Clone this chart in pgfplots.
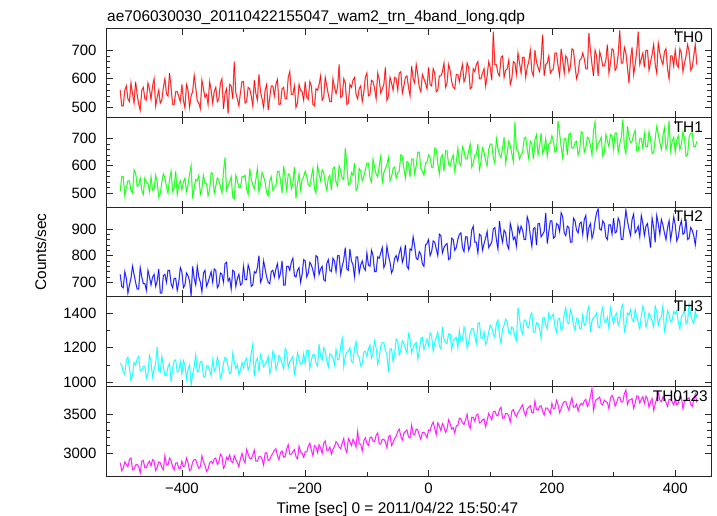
\documentclass[border=0pt]{standalone}
\usepackage{fontspec}
\setmainfont{Liberation Sans}
\usepackage{pgfplots}
\usepackage{pgfplotstable}
\pgfplotsset{compat=1.18}
\pgfplotstableread{
t a b c d e
-500 560 505 730 1110 2880
-497.5 505 560 685 1100 2780
-495 505 560 680 1060 2810
-492.5 560 490 740 1045 2890
-490 575 520 715 1130 2860
-487.5 530 545 660 1145 2830
-485 520 545 690 1080 2920
-482.5 585 510 715 1010 2940
-480 548 500 760 1045 2790
-477.5 515 585 730 1115 2800
-475 590 575 700 1100 2850
-472.5 545 525 675 1135 2860
-470 512 530 675 1150 2830
-467.5 490 555 755 1065 2750
-465 560 510 720 1070 2900
-462.5 570 495 695 1095 2910
-460 530 555 695 1095 2815
-457.5 525 540 670 1025 2820
-455 585 535 745 1050 2870
-452.5 565 505 720 1155 2900
-450 528 560 690 1120 2840
-447.5 575 510 720 1030 2920
-445 600 515 730 1075 2900
-442.5 505 565 685 1110 2780
-440 535 540 705 1205 2820
-437.5 560 485 750 1065 2890
-435 515 498 660 1060 2880
-432.5 525 540 660 1150 2820
-430 570 570 725 1095 2790
-427.5 600 555 730 1040 2970
-425 548 525 700 1040 2860
-422.5 540 500 745 1090 2850
-420 620 550 745 1110 2940
-417.5 570 580 695 1005 2910
-415 510 505 680 1085 2830
-412.5 510 520 715 1125 2790
-410 555 580 715 1130 2875
-407.5 555 495 670 1060 2880
-405 538 530 700 1065 2810
-402.5 520 545 755 1120 2810
-400 580 512 740 1050 2900
-397.5 525 540 680 1125 2830
-395 498 555 690 1100 2840
-392.5 580 505 735 1020 2940
-390 560 530 725 1075 2880
-387.5 500 570 705 1100 2780
-385 540 600 650 985 2800
-382.5 555 480 760 1050 2890
-380 612 520 715 1090 2920
-377.5 570 550 690 1160 2920
-375 522 545 760 1060 2855
-372.5 515 565 720 1070 2810
-370 495 495 700 1120 2830
-367.5 595 515 665 1120 2970
-365 565 565 735 1035 2890
-362.5 535 535 745 1030 2850
-360 545 535 685 1095 2770
-357.5 510 490 700 1095 2800
-355 590 510 720 1070 2880
-352.5 560 575 740 1040 2900
-350 515 570 700 1130 2870
-347.5 555 500 750 1065 2930
-345 570 525 745 1080 2940
-342.5 520 555 680 1145 2860
-340 530 548 690 1110 2890
-337.5 585 525 735 1025 2990
-335 600 500 730 1050 2960
-332.5 495 580 700 1110 2810
-330 548 630 770 1145 2850
-327.5 565 510 775 1135 2950
-325 478 530 705 1090 2920
-322.5 580 540 715 1050 2980
-320 575 560 675 1060 2900
-317.5 530 485 745 1170 2880
-315 660 478 740 1120 2970
-312.5 550 565 685 1080 2920
-310 530 545 715 1100 2880
-307.5 505 520 730 1045 2830
-305 552 520 690 1070 2930
-302.5 590 560 695 1115 3000
-300 590 560 760 1085 2920
-297.5 515 565 710 1125 2880
-295 520 515 710 1140 3050
-292.5 570 495 765 1070 2990
-290 565 590 745 1095 2940
-287.5 540 550 685 1170 2930
-285 505 530 690 1220 2980
-282.5 595 515 740 1035 3040
-280 548 550 735 1120 2900
-277.5 525 590 755 1140 2900
-275 615 505 800 1060 2960
-272.5 555 530 700 1160 2960
-270 530 575 715 1130 2930
-267.5 500 560 780 1090 2850
-265 560 540 750 1105 3000
-262.5 580 500 720 1120 3010
-260 490 490 700 1150 2910
-257.5 535 545 695 1050 2920
-255 575 560 740 1090 2970
-252.5 575 510 745 1180 3000
-250 540 520 720 1160 3040
-247.5 580 525 750 1075 3060
-245 598 580 770 1100 2970
-242.5 510 580 715 1155 2920
-240 512 545 735 1140 3010
-237.5 565 500 780 1110 3030
-235 570 600 690 1080 2950
-232.5 530 555 690 1195 2960
-230 530 510 760 1175 3060
-227.5 605 570 760 1085 3110
-225 625 565 745 1120 2990
-222.5 545 515 775 1135 2990
-220 545 535 790 1150 3020
-217.5 575 595 725 1050 3050
-215 500 480 720 1095 2960
-212.5 515 535 745 1170 2930
-210 580 570 755 1135 3090
-207.5 560 510 700 1105 3020
-205 555 550 730 1110 3000
-202.5 525 560 785 1165 2950
-200 590 580 780 1110 3020
-197.5 535 560 720 1185 3020
-195 528 530 735 1185 3090
-192.5 590 525 775 1080 3130
-190 575 560 765 1130 3040
-187.5 510 590 745 1160 2970
-185 505 515 720 1160 3100
-182.5 565 500 800 1110 3080
-180 560 600 795 1095 3010
-177.5 580 570 730 1220 3110
-175 610 545 750 1150 3070
-172.5 525 585 760 1130 3000
-170 535 575 710 1200 3130
-167.5 605 535 705 1180 3160
-165 575 510 770 1125 3040
-162.5 545 555 785 1090 3040
-160 520 565 745 1165 3080
-157.5 520 510 740 1155 2990
-155 600 590 790 1140 3050
-152.5 570 595 780 1100 3090
-150 548 540 740 1190 3150
-147.5 570 525 800 1130 3130
-145 650 600 800 1135 3080
-142.5 535 580 730 1210 3060
-140 540 555 760 1255 3130
-137.5 600 550 785 1090 3190
-135 585 665 830 1150 3060
-132.5 510 605 750 1175 3010
-130 515 530 745 1180 3190
-127.5 580 535 825 1200 3150
-125 570 575 780 1120 3100
-122.5 595 565 765 1115 3180
-120 605 610 720 1200 3140
-117.5 545 510 795 1235 3080
-115 530 520 795 1160 3280
-112.5 565 590 735 1145 3120
-110 575 580 765 1095 3120
-107.5 520 545 780 1110 3030
-105 552 560 755 1175 3160
-102.5 605 585 745 1180 3200
-100 620 610 810 1150 3130
-97.5 540 610 765 1195 3100
-95 545 555 760 1215 3200
-92.5 595 540 820 1140 3210
-90 590 625 800 1170 3160
-87.5 565 595 740 1240 3150
-85 530 570 740 1200 3230
-82.5 620 560 795 1105 3260
-80 598 600 790 1140 3120
-77.5 550 635 810 1210 3120
-75 565 540 830 1230 3180
-72.5 580 575 755 1230 3180
-70 640 590 770 1185 3150
-67.5 525 605 835 1160 3070
-65 540 630 800 1060 3210
-62.5 605 545 775 1190 3230
-60 585 560 735 1195 3100
-57.5 560 590 750 1120 3140
-55 605 595 790 1165 3190
-52.5 600 555 800 1250 3220
-50 560 575 780 1240 3280
-47.5 620 580 810 1160 3310
-45 625 640 830 1185 3220
-42.5 550 635 775 1240 3170
-40 575 590 795 1225 3260
-37.5 605 555 840 1195 3280
-35 610 615 760 1170 3300
-32.5 570 610 750 1280 3210
-30 540 560 825 1250 3200
-27.5 645 625 820 1170 3360
-25 600 625 870 1200 3250
-22.5 585 570 835 1220 3240
-20 650 600 790 1230 3310
-17.5 615 650 785 1135 3300
-15 570 650 815 1180 3230
-12.5 555 590 805 1255 3180
-10 615 580 770 1260 3270
-7.5 600 565 760 1190 3270
-5 585 610 840 1215 3240
-2.5 565 615 845 1250 3200
0 640 640 860 1210 3300
2.5 580 630 800 1285 3290
5 575 595 815 1270 3360
7.5 635 595 855 1180 3400
10 620 665 850 1230 3320
12.5 555 660 825 1260 3240
15 560 610 800 1290 3390
17.5 610 570 880 1210 3350
20 610 630 875 1195 3290
22.5 625 640 810 1320 3380
25 655 580 830 1250 3340
27.5 570 655 840 1230 3270
30 585 655 845 1225 3310
32.5 650 605 785 1280 3430
35 630 600 790 1280 3380
37.5 590 625 865 1190 3310
40 570 640 860 1240 3330
42.5 565 580 820 1255 3260
45 615 615 830 1260 3350
47.5 615 665 860 1200 3360
50 590 610 880 1300 3450
52.5 625 600 885 1240 3440
55 650 670 830 1245 3390
57.5 590 655 815 1320 3370
60 605 625 870 1285 3430
62.5 655 625 870 1200 3500
65 640 655 820 1230 3370
67.5 565 680 835 1285 3320
70 570 595 895 1310 3460
72.5 635 610 910 1310 3460
75 625 640 850 1265 3410
77.5 650 640 850 1225 3490
80 660 680 810 1340 3500
82.5 600 585 880 1345 3390
85 600 615 875 1255 3400
87.5 620 665 820 1255 3430
90 635 650 845 1290 3440
92.5 575 620 865 1220 3340
95 610 600 890 1240 3420
97.5 660 660 830 1290 3510
100 640 680 840 1330 3470
102.5 595 680 850 1315 3430
105 765 630 900 1280 3530
107.5 650 610 905 1260 3540
110 650 700 860 1340 3490
112.5 620 665 825 1360 3480
115 610 640 930 1270 3560
117.5 675 630 880 1225 3590
120 680 665 850 1310 3450
122.5 605 705 895 1330 3450
125 630 610 885 1365 3510
127.5 635 645 840 1350 3510
130 665 690 825 1290 3480
132.5 580 675 920 1280 3400
135 600 645 895 1320 3540
137.5 660 615 860 1310 3560
140 655 760 870 1265 3500
142.5 615 660 835 1240 3470
145 690 655 910 1430 3520
147.5 655 625 885 1370 3550
150 620 640 910 1300 3590
152.5 675 650 895 1280 3620
155 675 700 860 1360 3530
157.5 605 705 860 1360 3480
160 640 660 945 1320 3570
162.5 660 625 925 1315 3590
165 700 690 875 1385 3610
167.5 625 680 835 1400 3520
170 610 625 900 1290 3520
172.5 700 695 905 1290 3670
175 660 715 840 1345 3560
177.5 640 640 920 1340 3550
180 625 670 920 1310 3600
182.5 670 720 870 1255 3610
185 755 645 880 1370 3540
187.5 610 660 890 1375 3490
190 650 700 960 1330 3580
192.5 655 635 845 1310 3580
195 680 680 890 1400 3550
197.5 620 685 930 1370 3510
200 630 710 930 1380 3640
202.5 635 690 865 1395 3570
205 690 650 870 1320 3580
207.5 690 655 920 1290 3680
210 645 765 915 1365 3620
212.5 610 720 890 1370 3520
215 705 670 960 1300 3570
217.5 665 630 945 1320 3630
220 620 700 885 1395 3660
222.5 680 700 875 1430 3660
225 670 640 910 1345 3600
227.5 625 715 905 1340 3550
230 640 720 850 1420 3640
232.5 705 665 850 1390 3710
235 700 665 940 1330 3590
237.5 645 685 930 1300 3590
240 600 690 895 1370 3630
242.5 620 640 885 1365 3540
245 665 655 920 1310 3610
247.5 670 725 925 1310 3640
250 690 720 880 1390 3620
252.5 670 650 935 1330 3670
255 635 665 950 1340 3690
257.5 635 705 865 1410 3600
260 760 700 905 1440 3640
262.5 700 675 920 1290 3730
265 650 640 865 1355 3830
267.5 610 730 885 1375 3550
270 700 760 930 1380 3660
272.5 680 660 960 1400 3690
275 610 680 975 1320 3700
277.5 695 690 900 1315 3720
280 675 705 895 1400 3630
282.5 645 635 930 1435 3620
285 645 650 920 1350 3680
287.5 665 715 870 1345 3660
290 720 690 860 1375 3650
292.5 620 670 915 1310 3570
295 655 715 915 1430 3710
297.5 705 710 880 1380 3740
300 700 660 940 1340 3700
302.5 630 720 885 1385 3605
305 640 720 890 1400 3650
307.5 685 650 940 1330 3715
310 770 680 925 1355 3720
312.5 655 705 860 1430 3655
315 655 770 860 1450 3660
317.5 710 670 915 1295 3765
320 690 645 970 1330 3810
322.5 640 745 930 1400 3625
325 585 705 900 1390 3680
327.5 670 685 875 1420 3685
330 710 690 935 1365 3700
332.5 615 715 955 1350 3575
335 650 730 885 1420 3640
337.5 695 655 895 1380 3735
340 765 655 910 1345 3730
342.5 650 700 870 1310 3645
345 670 700 950 1385 3690
347.5 690 665 920 1440 3725
350 640 720 875 1400 3640
352.5 700 670 910 1320 3730
355 700 670 920 1350 3700
357.5 630 725 875 1400 3590
360 660 700 830 1380 3660
362.5 685 645 940 1355 3700
365 720 650 905 1320 3550
367.5 650 700 850 1440 3630
370 620 745 950 1410 3700
372.5 725 715 920 1330 3780
375 690 685 880 1365 3680
377.5 665 660 935 1380 3660
380 650 710 915 1440 3720
382.5 695 740 885 1295 3720
385 705 660 860 1340 3650
387.5 635 680 905 1415 3600
390 600 765 930 1390 3690
392.5 680 655 860 1350 3690
395 680 690 895 1360 3660
397.5 645 705 945 1410 3620
400 700 650 915 1395 3690
402.5 650 695 855 1415 3620
405 640 710 870 1345 3640
407.5 705 660 910 1310 3730
410 690 680 930 1380 3720
412.5 625 725 880 1390 3570
415 655 700 885 1420 3660
417.5 680 635 935 1340 3680
420 720 640 860 1355 3700
422.5 695 705 865 1450 3710
425 630 720 905 1390 3630
427.5 640 720 895 1360 3600
430 680 670 875 1340 3680
432.5 720 670 840 1410 3760
435 650 690 895 1375 3650
}\lc

\definecolor{qred}{RGB}{255,0,0}
\definecolor{qgreen}{RGB}{0,255,0}
\definecolor{qblue}{RGB}{0,0,255}
\definecolor{qcyan}{RGB}{0,255,255}
\definecolor{qmag}{RGB}{255,0,255}

\pgfplotsset{
  panel/.style={
    scale only axis, width=605bp, height=89.6bp,
    anchor=north west,
    xmin=-523, xmax=458,
    xtick={-400,-200,0,200,400}, minor x tick num=1,
    xticklabels={},
    xtick pos=both, ytick pos=both,
    yticklabel pos=left,
    tick align=inside,
    major tick length=6.5bp, minor tick length=4bp,
    every tick/.style={black!85, line width=0.7bp},
    axis line style={black!85, line width=0.9bp},
    tick label style={font=\fontsize{15}{17}\selectfont},
    /pgf/number format/assume math mode=true,
    /pgf/number format/1000 sep={},
    scaled y ticks=false,
    yticklabel style={inner sep=0pt, xshift=-9.3bp},
    xticklabel style={inner sep=0pt, yshift=-7.3bp},
    clip=true,
  },
}
\tikzset{lab/.style={anchor=north east, inner sep=0pt, font=\fontsize{15.5}{17}\selectfont, yshift=-3.7bp}}
\newcommand{\series}[2]{%
  \addplot[color=#1!45, line width=1.3bp, mark=none, forget plot] table[x=t,y=#2]{\lc};
  \addplot[#1, line width=0.5bp, mark=none] table[x=t,y=#2]{\lc};
}

\begin{document}
\begin{tikzpicture}
\begin{axis}[panel, at={(106bp,-28bp)}, ymin=464, ymax=778, ytick={500,600,700}, minor y tick num=4]
\series{qred}{a}
\node[lab] at (rel axis cs:0.987,1) {TH0};
\end{axis}
\begin{axis}[panel, at={(106bp,-117.6bp)}, ymin=448, ymax=777, ytick={500,600,700}, minor y tick num=4]
\series{qgreen}{b}
\node[lab] at (rel axis cs:0.987,1) {TH1};
\end{axis}
\begin{axis}[panel, at={(106bp,-207.2bp)}, ymin=646, ymax=981, ytick={700,800,900}, minor y tick num=4]
\series{qblue}{c}
\node[lab] at (rel axis cs:0.987,1) {TH2};
\end{axis}
\begin{axis}[panel, at={(106bp,-296.8bp)}, ymin=977, ymax=1494, ytick={1000,1200,1400}, minor y tick num=1]
\series{qcyan}{d}
\node[lab] at (rel axis cs:0.987,1) {TH3};
\end{axis}
\begin{axis}[panel, at={(106bp,-386.4bp)}, ymin=2711, ymax=3856, ytick={3000,3500}, minor y tick num=4,
  xticklabels={−400,−200,0,200,400}]
\series{qmag}{e}
\node[lab] at (rel axis cs:0.995,1) {TH0123};
\end{axis}
\node[anchor=base west, inner sep=0pt, font=\fontsize{15.5}{17}\selectfont] at (107bp,-21.5bp) {ae706030030\_20110422155047\_wam2\_trn\_4band\_long.qdp};
\node[rotate=90, inner sep=0pt, font=\fontsize{15.5}{17}\selectfont] at (40.7bp,-252bp) {Counts/sec};
\node[anchor=base, inner sep=0pt, font=\fontsize{15.5}{17}\selectfont] at (397.5bp,-513.3bp) {Time [sec] 0 = 2011/04/22 15:50:47};
\pgfresetboundingbox
\path (0bp,0bp) rectangle (717bp,-516bp);
\end{tikzpicture}
\end{document}
